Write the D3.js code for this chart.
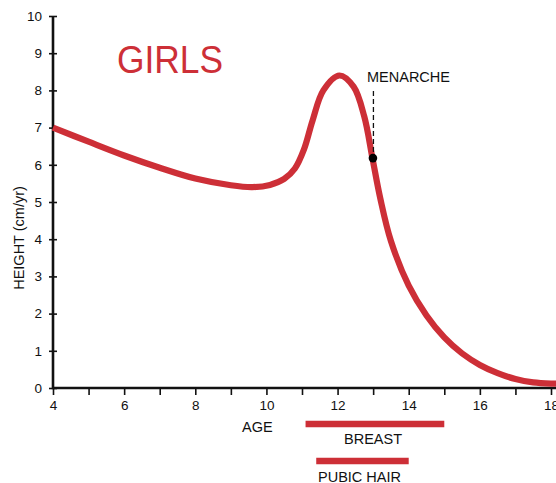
<!DOCTYPE html>
<html><head><meta charset="utf-8">
<script src="https://cdn.jsdelivr.net/npm/d3@7"></script>
<style>
body{margin:0;background:#fff;}
svg{display:block;font-family:"Liberation Sans",Arial,sans-serif;}
</style></head>
<body><svg id="c" width="556" height="483"></svg>
<script>
// Growth velocity curve (age in years, height velocity cm/yr)
const ages   = [4, 5, 6, 7, 8, 9, 9.6, 10.1, 10.5, 10.8, 11.05, 11.3, 11.6, 12.05, 12.45, 12.75, 12.98, 13.2, 13.5, 14, 14.5, 15, 15.5, 16, 16.5, 17, 17.5, 18, 18.2];
const values = [7.0, 6.62, 6.25, 5.92, 5.63, 5.45, 5.4, 5.46, 5.62, 5.9, 6.4, 7.2, 8.0, 8.4, 8.1, 7.3, 6.18, 5.1, 3.95, 2.75, 1.95, 1.36, 0.93, 0.62, 0.4, 0.24, 0.15, 0.12, 0.12];
const menarche = {age: 12.98, value: 6.18, label: "MENARCHE"};
const stageNames = ["BREAST", "PUBIC HAIR"];
const stageStart = [11.1, 11.4];
const stageEnd   = [15.0, 14.0];
const xTicks = [4,5,6,7,8,9,10,11,12,13,14,15,16,17,18];
const yTicks = [0,1,2,3,4,5,6,7,8,9,10];
const title = "GIRLS";
const xLabel = "AGE";
const yLabel = "HEIGHT (cm/yr)";

const red = "#cd2f37";
const svg = d3.select("#c");
const x = d3.scaleLinear().domain([4,18]).range([53,551]);
const y = d3.scaleLinear().domain([0,10]).range([388,16]);

// Axes
const xAxis = d3.axisBottom(x).tickValues(xTicks).tickSize(7).tickPadding(5)
  .tickFormat(d => d % 2 === 0 ? d : "");
const gx = svg.append("g").attr("transform", `translate(0,${y(0)})`).call(xAxis);
gx.select(".domain").remove();
gx.selectAll(".tick line").attr("stroke","#111").attr("stroke-width",1.6);
gx.selectAll(".tick text").attr("font-size",13.5).attr("fill","#111").attr("font-family","Liberation Sans, Arial, sans-serif");

const yAxis = d3.axisLeft(y).tickValues(yTicks).tickSize(4).tickPadding(7);
const gy = svg.append("g").attr("transform", `translate(${x(4)},0)`).call(yAxis);
gy.select(".domain").remove();
gy.selectAll(".tick line").attr("stroke","#111").attr("stroke-width",1.6).attr("x2",4).attr("x1",-4);
gy.selectAll(".tick text").attr("font-size",13.5).attr("fill","#111").attr("font-family","Liberation Sans, Arial, sans-serif");

// axis lines
svg.append("line").attr("x1",x(4)).attr("x2",556).attr("y1",y(0)).attr("y2",y(0))
  .attr("stroke","#111").attr("stroke-width",2.6);
svg.append("line").attr("x1",x(4)).attr("x2",x(4)).attr("y1",y(10)).attr("y2",y(0)+1.3)
  .attr("stroke","#111").attr("stroke-width",2.6);

// curve
const pts = ages.map((a,i)=>[a, values[i]]);
const line = d3.line().x(d=>x(d[0])).y(d=>y(d[1])).curve(d3.curveCatmullRom.alpha(0.5));
svg.append("path").datum(pts).attr("d",line).attr("fill","none")
  .attr("stroke",red).attr("stroke-width",6.2).attr("stroke-linecap","butt");

// menarche
svg.append("line").attr("x1",x(menarche.age)+1).attr("x2",x(menarche.age)+1)
  .attr("y1",91).attr("y2",y(menarche.value)-4)
  .attr("stroke","#111").attr("stroke-width",1.3).attr("stroke-dasharray","5,3");
svg.append("circle").attr("cx",x(menarche.age)+0.5).attr("cy",y(menarche.value)).attr("r",4.3).attr("fill","#000");
svg.append("text").attr("x",367).attr("y",82).attr("font-size",14.5).attr("fill","#111").text(menarche.label);

// title
svg.append("text").attr("x",117).attr("y",73).attr("font-size",38).attr("fill",red)
  .attr("textLength",106).attr("lengthAdjust","spacingAndGlyphs").text(title);

// axis labels
svg.append("text").attr("x",242).attr("y",432).attr("font-size",14.5).attr("fill","#111").text(xLabel);
svg.append("text").attr("transform",`translate(24,238) rotate(-90)`).attr("text-anchor","middle")
  .attr("font-size",14.5).attr("fill","#111").text(yLabel);

// stage bars
const barY = [424, 461];
const labelX = [344, 318];
const labelY = [444, 482];
stageNames.forEach((n,i)=>{
  svg.append("line").attr("x1",x(stageStart[i])).attr("x2",x(stageEnd[i]))
    .attr("y1",barY[i]).attr("y2",barY[i]).attr("stroke",red).attr("stroke-width",6.5);
  svg.append("text").attr("x",labelX[i]).attr("y",labelY[i]).attr("font-size",14.5).attr("fill","#111").text(n);
});
</script></body></html>
